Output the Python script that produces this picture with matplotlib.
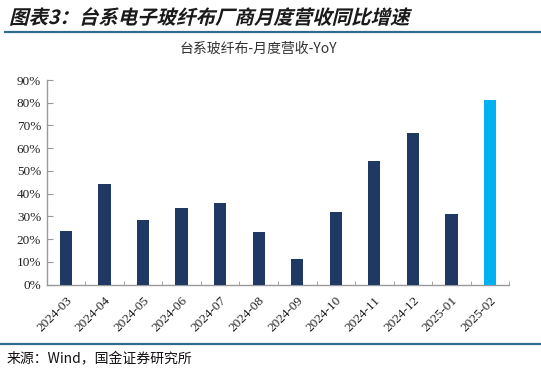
import matplotlib
matplotlib.use("Agg")
import matplotlib.pyplot as plt
from matplotlib.lines import Line2D
from matplotlib.textpath import TextPath
from matplotlib.patches import PathPatch
from matplotlib.font_manager import FontProperties
from matplotlib.transforms import Affine2D, IdentityTransform

plt.rcParams['font.family'] = ['Noto Sans CJK SC', 'DejaVu Sans']

categories = ["2024-03", "2024-04", "2024-05", "2024-06", "2024-07", "2024-08",
              "2024-09", "2024-10", "2024-11", "2024-12", "2025-01", "2025-02"]
yoy = [23.6, 44.1, 28.6, 33.9, 36.1, 23.2, 11.2, 31.8, 54.5, 66.7, 31.0, 81.2]
ytick_values = [0, 10, 20, 30, 40, 50, 60, 70, 80, 90]
ytick_labels = [f"{v}%" for v in ytick_values]

title = "图表3：台系电子玻纤布厂商月度营收同比增速"
subtitle = "台系玻纤布-月度营收-YoY"
source = "来源：Wind，国金证券研究所"

DPI = 100
fig = plt.figure(figsize=(5.41, 3.74), dpi=DPI)
ax = fig.add_axes([0.0863, 0.239, 0.855, 0.547])

colors = ["#1F3864"] * (len(categories) - 1) + ["#00B0F0"]
x = list(range(len(categories)))
ax.bar(x, yoy, width=0.32, color=colors, zorder=3)

ax.set_xlim(-0.5, len(categories) - 0.5)
ax.set_ylim(0, 90)
ax.set_yticks(ytick_values)
ax.set_yticklabels(ytick_labels, fontfamily=['Liberation Serif', 'DejaVu Serif'], fontsize=9.5, color="#222222")
ax.set_xticks(x)
ax.set_xticklabels(categories, rotation=45, ha='right', rotation_mode='anchor',
                   fontfamily=['Liberation Serif', 'DejaVu Serif'], fontsize=9.5, color="#222222")
ax.tick_params(axis='x', length=0, pad=7)
ax.set_xticks([i + 0.5 for i in range(-1, len(categories))], minor=True)
ax.tick_params(axis='x', which='minor', length=3, direction='in', color="#999999")
ax.tick_params(axis='y', length=4, direction='in', color="#999999", pad=4)

for s in ['top', 'right']:
    ax.spines[s].set_visible(False)
for s in ['left', 'bottom']:
    ax.spines[s].set_color("#999999")
    ax.spines[s].set_linewidth(1.0)

# header: bold italic (sheared) title
fp = FontProperties(family='Noto Sans CJK SC', weight='bold')
tp = TextPath((0, 0), title, size=14, prop=fp)
px = DPI / 72.0
tr = Affine2D().scale(px).skew_deg(14, 0).translate(9, 374 - 24)
fig.add_artist(PathPatch(tp, transform=tr + IdentityTransform(), color="#1a1a1a", lw=0))
fig.add_artist(Line2D([0.009, 1.0], [0.914, 0.914], color="#2E6A8E", lw=1.6))
fig.text(0.478, 0.869, subtitle, fontsize=10, color="#333333", ha='center', va='center')

# footer
fig.add_artist(Line2D([0.0, 1.0], [0.081, 0.081], color="#2E6A8E", lw=1.6))
fig.text(0.012, 0.04, source, fontsize=10, color="#111111", ha='left', va='center')

fig.savefig("out.png", dpi=DPI)
